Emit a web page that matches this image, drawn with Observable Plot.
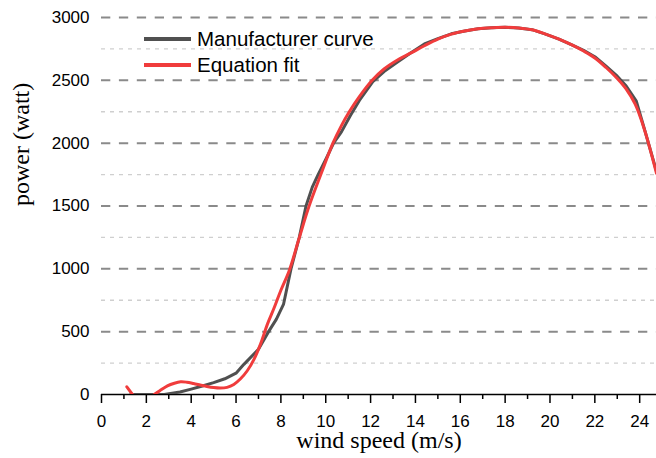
<!DOCTYPE html>
<html>
<head>
<meta charset="utf-8">
<script src="https://cdn.jsdelivr.net/npm/d3@7"></script>
<script src="https://cdn.jsdelivr.net/npm/@observablehq/plot@0.6"></script>
<style>
  html, body { margin: 0; padding: 0; background: #fff; }
  #wrap { position: relative; width: 656px; height: 458px; overflow: hidden; }
  #legend { position: absolute; left: 144px; top: 26px; font-family: "Liberation Sans", Arial, sans-serif; font-size: 20.5px; color: #000; }
  .row { display: flex; align-items: center; height: 26px; line-height: 26px; white-space: nowrap; }
  .sw { display: inline-block; width: 47px; height: 4px; margin-right: 6px; }
</style>
</head>
<body>
<div id="wrap">
  <div id="chart"></div>
  <div id="legend"></div>
</div>
<script>
// ---- data ----
const seriesNames = ["Manufacturer curve", "Equation fit"];
const seriesColors = ["#505050", "#f03c3c"];

const mfrSpeed = [1.3, 2.8, 3.5, 4, 4.5, 5, 5.5, 6, 6.35, 7, 7.45, 7.8, 8.12, 8.45, 8.82, 9.12, 9.4, 9.66, 10, 10.35, 10.7, 11.1, 11.5, 12.1, 12.6, 13.2, 13.8, 14.4, 15, 15.6, 16.2, 16.8, 17.4, 18, 18.6, 19.2, 19.8, 20.4, 21, 21.5, 22, 22.5, 23, 23.4, 23.85, 24.2, 24.75];
const mfrPower = [0, 0, 20, 43, 68, 95, 125, 170, 240, 360, 500, 600, 720, 1000, 1250, 1500, 1650, 1750, 1870, 2000, 2090, 2220, 2340, 2490, 2570, 2645, 2720, 2790, 2832, 2870, 2893, 2910, 2918, 2922, 2917, 2903, 2868, 2828, 2780, 2738, 2688, 2612, 2533, 2455, 2335, 2120, 1775];

// null marks where the fitted curve leaves the plotted range (below 0)
const fitSpeed = [1.13, 1.38, 1.8, 2.35, 2.6, 2.94, 3.25, 3.53, 3.8, 4.1, 4.4, 4.7, 5.0, 5.3, 5.6, 5.9, 6.2, 6.5, 6.8, 7.1, 7.4, 7.7, 8.0, 8.37, 8.8, 9.25, 9.78, 10.32, 10.7, 11.05, 11.5, 12.07, 12.6, 13.2, 13.8, 14.4, 15, 15.6, 16.2, 16.8, 17.4, 18, 18.6, 19.2, 19.8, 20.4, 21, 21.5, 22, 22.5, 23, 23.4, 23.8, 24.2, 24.75];
const fitPower = [61, 0, null, 0, 30, 69, 90, 101, 98, 88, 76, 64, 55, 51, 57, 80, 125, 189, 280, 405, 560, 690, 830, 985, 1235, 1495, 1750, 2000, 2140, 2250, 2370, 2500, 2590, 2662, 2718, 2775, 2828, 2868, 2893, 2910, 2918, 2922, 2917, 2902, 2868, 2828, 2780, 2733, 2678, 2602, 2515, 2430, 2310, 2115, 1760];

const majorTicksX = [0, 2, 4, 6, 8, 10, 12, 14, 16, 18, 20, 22, 24];
const minorTicksX = [1, 3, 5, 7, 9, 11, 13, 15, 17, 19, 21, 23];
const majorTicksY = [0, 500, 1000, 1500, 2000, 2500, 3000];
const minorGridY = [250, 750, 1250, 1750, 2250, 2750];
const majorGridY = [500, 1000, 1500, 2000, 2500, 3000];

const xLabel = "wind speed (m/s)";
const yLabel = "power (watt)";

// ---- tables ----
const mfr = mfrSpeed.map((s, i) => ({speed: s, power: mfrPower[i]}));
const fit = fitSpeed.map((s, i) => ({speed: s, power: fitPower[i]}));

const serif = "'Liberation Serif', 'Times New Roman', serif";

const plot = Plot.plot({
  width: 656,
  height: 458,
  marginLeft: 101,
  marginRight: 0,
  marginTop: 17,
  marginBottom: 64,
  style: {background: "#fff", color: "#000", fontFamily: "'Liberation Sans', Arial, sans-serif", fontSize: "17px"},
  x: {domain: [0, 24.75]},
  y: {domain: [0, 3000]},
  marks: [
    Plot.ruleY(minorGridY, {stroke: "#cfcfcf", strokeWidth: 1.3, strokeDasharray: "4,5"}),
    Plot.ruleY(majorGridY, {stroke: "#8a8a8a", strokeWidth: 2, strokeDasharray: "9.3,8.6"}),
    Plot.axisY(majorTicksY, {tickSize: 0, tickPadding: 12, label: null, fontSize: 17, tickFormat: d => String(d)}),
    Plot.axisX(majorTicksX, {tickSize: 9, tickPadding: 11, label: null, fontSize: 17, strokeWidth: 1.5, tickFormat: d => String(d)}),
    Plot.axisX(minorTicksX, {tickSize: 5, tickFormat: () => "", label: null, strokeWidth: 1.5}),
    Plot.ruleY([0], {stroke: "#000", strokeWidth: 1.5}),
    Plot.line(mfr, {x: "speed", y: "power", stroke: seriesColors[0], strokeWidth: 3, curve: "linear", clip: true}),
    Plot.line(fit, {x: "speed", y: "power", stroke: seriesColors[1], strokeWidth: 3, curve: "catmull-rom", clip: true}),
    Plot.text([xLabel], {frameAnchor: "bottom", dy: 53, fontFamily: serif, fontSize: 24, fill: "#000"}),
    Plot.text([yLabel], {frameAnchor: "left", dx: -80, rotate: -90, fontFamily: serif, fontSize: 24, fill: "#000"})
  ]
});
document.getElementById("chart").appendChild(plot);

const legend = document.getElementById("legend");
seriesNames.forEach((name, i) => {
  const row = document.createElement("div");
  row.className = "row";
  const sw = document.createElement("span");
  sw.className = "sw";
  sw.style.background = seriesColors[i];
  const t = document.createElement("span");
  t.textContent = name;
  row.appendChild(sw);
  row.appendChild(t);
  legend.appendChild(row);
});
</script>
</body>
</html>
